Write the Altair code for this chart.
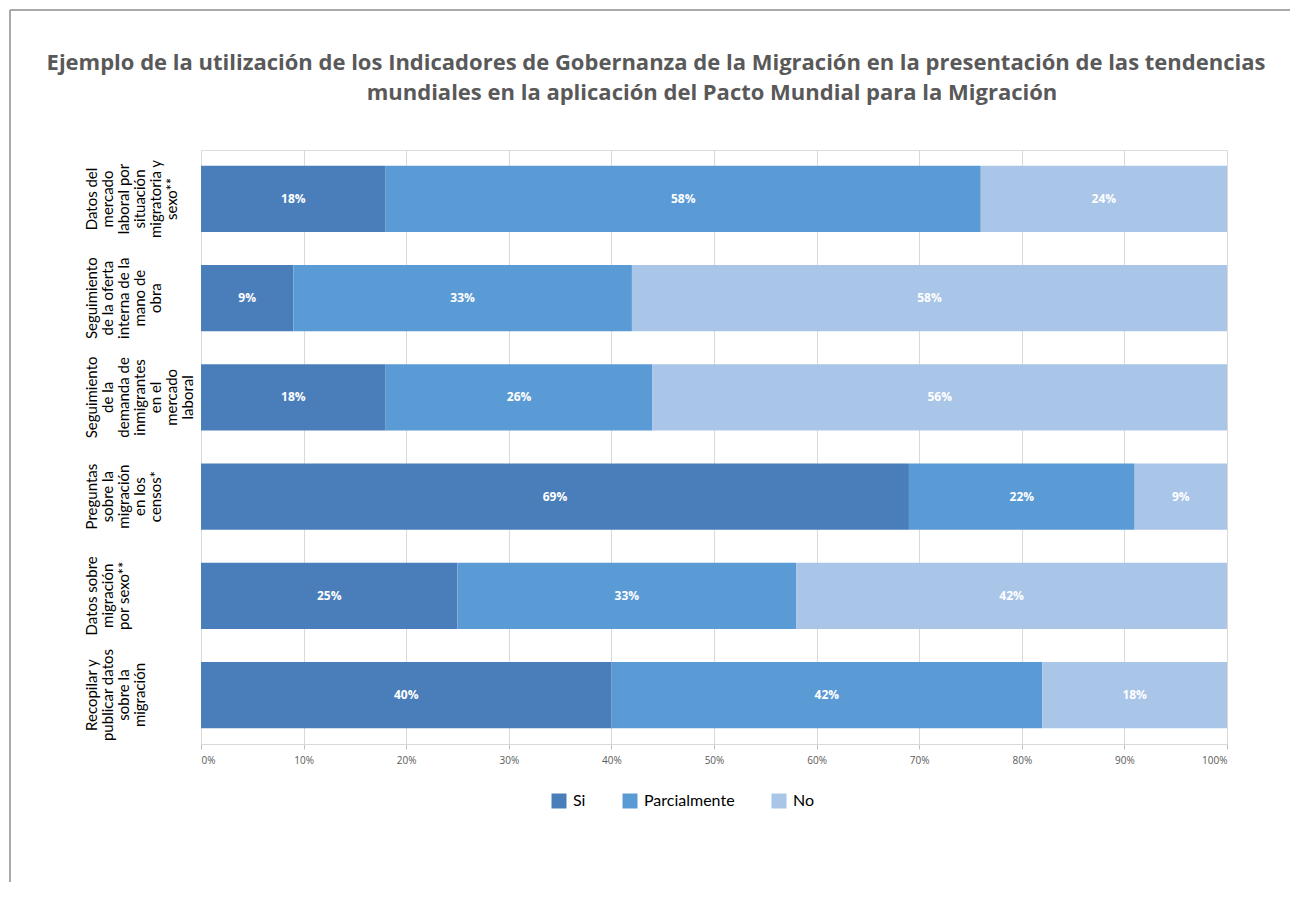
import altair as alt
import pandas as pd

categories = [
    "Datos del\nmercado\nlaboral por\nsituación\nmigratoria y\nsexo**",
    "Seguimiento\nde la oferta\ninterna de la\nmano de\nobra",
    "Seguimiento\nde la\ndemanda de\ninmigrantes\nen el\nmercado\nlaboral",
    "Preguntas\nsobre la\nmigración\nen los\ncensos*",
    "Datos sobre\nmigración\npor sexo**",
    "Recopilar y\npublicar datos\nsobre la\nmigración",
]
serie_names = ["Si", "Parcialmente", "No"]
si = [18, 9, 18, 69, 25, 40]
parcial = [58, 33, 26, 22, 33, 42]
no = [24, 58, 56, 9, 42, 18]
colors = ["#4A7EBB", "#5B9BD5", "#A9C5E8"]
x_ticks = [0, 10, 20, 30, 40, 50, 60, 70, 80, 90, 100]
title_lines = [
    "Ejemplo de la utilización de los Indicadores de Gobernanza de la Migración en la presentación de las tendencias",
    "mundiales en la aplicación del Pacto Mundial para la Migración",
]

rows = []
for i, c in enumerate(categories):
    for k, (name, vals) in enumerate(zip(serie_names, [si, parcial, no])):
        rows.append({"categoria": c, "serie": name, "orden": k, "valor": vals[i]})
df = pd.DataFrame(rows)

base = alt.Chart(df).transform_stack(
    stack="valor", groupby=["categoria"], sort=[alt.SortField("orden")], as_=["x0", "x1"]
).transform_calculate(
    xm="(datum.x0 + datum.x1) / 2", etiqueta="datum.valor + '%'"
)

y_enc = alt.Y(
    "categoria:N",
    sort=categories,
    title=None,
    scale=alt.Scale(paddingInner=0.333, paddingOuter=0.16),
    axis=alt.Axis(
        labelExpr="split(datum.label, '\\n')",
        labelAngle=270,
        labelAlign="center",
        labelBaseline="top",
        labelPadding=117,
        ticks=False,
        tickSize=0,
        domain=False,
        grid=False,
        labelFont="Lato",
        labelFontSize=15,
        labelLineHeight=16,
        labelColor="#000000",
        labelOverlap=False,
        labelLimit=300,
    ),
)

x_axis = alt.Axis(
    values=x_ticks,
    labelExpr="datum.value + '%'",
    grid=True,
    gridColor="#D9D9D9",
    domainColor="#D9D9D9",
    tickColor="#BFBFBF",
    tickSize=5,
    labelFont="Open Sans",
    labelFontSize=10,
    labelColor="#595959",
    labelPadding=6,
    title=None,
)

bars = base.mark_bar().encode(
    y=y_enc,
    x=alt.X("x0:Q", scale=alt.Scale(domain=[0, 100]), axis=x_axis),
    x2="x1:Q",
    color=alt.Color(
        "serie:N",
        scale=alt.Scale(domain=serie_names, range=colors),
        title=None,
        legend=alt.Legend(
            orient="none",
            legendX=350,
            legendY=643,
            direction="horizontal",
            symbolType="square",
            symbolSize=225,
            symbolStrokeWidth=0,
            labelFont="Lato",
            labelFontSize=16,
            labelColor="#000000",
            columnPadding=36,
            labelOffset=6,
        ),
    ),
)

labels = base.mark_text(
    color="white", font="Open Sans", fontWeight="bold", fontSize=12
).encode(
    y=alt.Y("categoria:N", sort=categories),
    x=alt.X("xm:Q"),
    text="etiqueta:N",
)

one = pd.DataFrame({"a": [0]})
title1 = alt.Chart(one).mark_text(
    text=title_lines[0], font="Open Sans", fontWeight="bold", fontSize=22,
    color="#595959", align="center", baseline="alphabetic",
).encode(x=alt.value(455), y=alt.value(-80))
title2 = alt.Chart(one).mark_text(
    text=title_lines[1], font="Open Sans", fontWeight="bold", fontSize=22,
    color="#595959", align="center", baseline="alphabetic",
).encode(x=alt.value(511), y=alt.value(-50))

frame_top = alt.Chart(one).mark_rule(color="#8C8C8C", strokeWidth=1.5).encode(
    x=alt.value(-191), x2=alt.value(1110), y=alt.value(-140)
)
frame_left = alt.Chart(one).mark_rule(color="#8C8C8C", strokeWidth=1.5).encode(
    x=alt.value(-191), y=alt.value(-140), y2=alt.value(760)
)

chart = alt.layer(frame_top, frame_left, bars, labels, title1, title2).properties(
    width=1026,
    height=594,
    autosize=alt.AutoSizeParams(type="none"),
    padding={"left": 193, "top": 142, "right": 63, "bottom": 138},
).configure_view(strokeWidth=0).configure(background="white")

chart.save("out.html", embed_options={"renderer": "svg", "actions": False})
